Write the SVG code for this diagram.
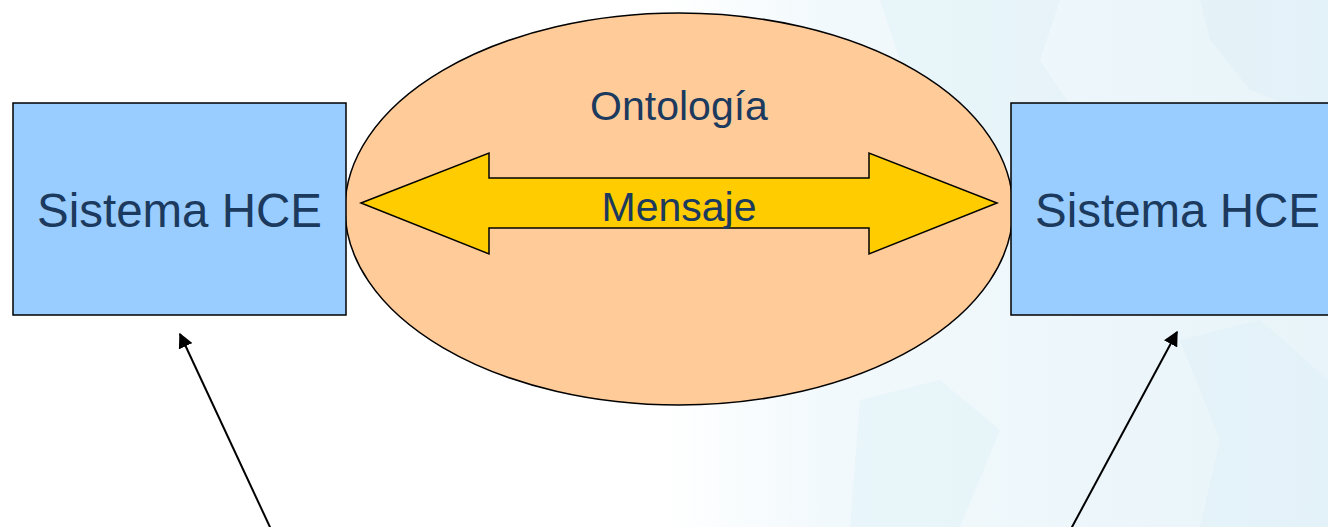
<svg xmlns="http://www.w3.org/2000/svg" width="1328" height="527" viewBox="0 0 1328 527">
<defs>
<style>
.box{fill:#99CCFF;stroke:#000;stroke-width:1.5}
.lbl{font-family:"Liberation Sans",Arial,sans-serif;fill:#1B3A5E;text-anchor:middle}
.conn{stroke:#000;stroke-width:2;fill:none}
</style>
<linearGradient id="bg" x1="0" y1="0" x2="1" y2="0">
<stop offset="0.5" stop-color="#FFFFFF"/>
<stop offset="0.62" stop-color="#F2F9FC"/>
<stop offset="1" stop-color="#E8F4F9"/>
</linearGradient>
<marker id="ah" viewBox="0 0 10 10" refX="9" refY="5" markerWidth="7.5" markerHeight="7.5" orient="auto" markerUnits="strokeWidth">
<path d="M0,0 L10,5 L0,10 z" fill="#000"/>
</marker>
</defs>
<rect width="1328" height="527" fill="url(#bg)"/>
<g id="background-shapes" fill="#DDEFF7" opacity="0.4">
<path d="M880,0 L1060,0 L1040,60 L1080,120 L1000,160 L940,110 L900,60 z"/>
<path d="M1200,0 L1328,0 L1328,120 L1250,90 L1210,40 z"/>
<path d="M860,400 L940,380 L1000,430 L960,527 L850,527 z"/>
<path d="M1180,340 L1260,320 L1328,380 L1328,527 L1200,527 L1220,440 z"/>
</g>
<g id="ontologia">
<ellipse cx="679" cy="209" rx="334" ry="196" fill="#FFCC99" stroke="#000" stroke-width="1.5"/>
<text class="lbl" x="679" y="120" font-size="41">Ontología</text>
</g>
<g id="mensaje">
<polygon points="361,203 489,153 489,178 869,178 869,153 997,203 869,254 869,228 489,228 489,254" fill="#FFCC00" stroke="#000" stroke-width="1.5"/>
<text class="lbl" x="679" y="221" font-size="41">Mensaje</text>
</g>
<g id="hce-left">
<rect class="box" x="13" y="103" width="333" height="212"/>
<text class="lbl" x="179.5" y="227" font-size="47.5">Sistema HCE</text>
</g>
<g id="hce-right">
<rect class="box" x="1011" y="103" width="333" height="212"/>
<text class="lbl" x="1177.5" y="227" font-size="47.5">Sistema HCE</text>
</g>
<g id="connectors">
<line class="conn" x1="276" y1="540" x2="180" y2="334" marker-end="url(#ah)"/>
<line class="conn" x1="1065" y1="540" x2="1177" y2="332" marker-end="url(#ah)"/>
</g>
</svg>
